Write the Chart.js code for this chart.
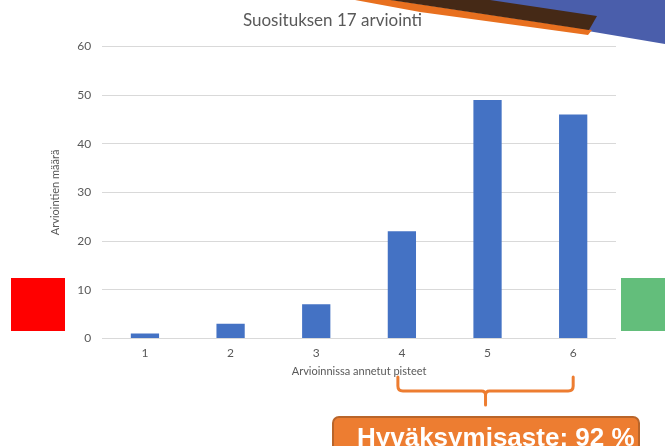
<!DOCTYPE html>
<html>
<head>
<meta charset="utf-8">
<script src="https://cdn.jsdelivr.net/npm/chart.js@4"></script>
<style>
    html, body { margin: 0; padding: 0; background: #fff; }
    #wrap { position: relative; width: 665px; height: 446px; overflow: hidden; }
</style>
</head>
<body>
<div id="wrap"><canvas id="chart" width="665" height="446"></canvas></div>
<script>
// Data
const pisteet = ['1', '2', '3', '4', '5', '6'];
const arvioinnit = [1, 3, 7, 22, 49, 46];
const yTicks = [0, 10, 20, 30, 40, 50, 60];

const otsikko = 'Suosituksen 17 arviointi';
const yOtsikko = 'Arviointien määrä';
const xOtsikko = 'Arvioinnissa annetut pisteet';
const hyvaksymisaste = 'Hyväksymisaste: 92 %';

// Koristeet (slide background shapes, brace and label box)
const decorations = {
    id: 'decorations',
    beforeDraw(chart) {
        const ctx = chart.ctx;
        ctx.save();
        // blue corner
        ctx.fillStyle = '#4a5eab';
        ctx.beginPath();
        ctx.moveTo(470, 0); ctx.lineTo(665, 0); ctx.lineTo(665, 44); ctx.lineTo(588, 31);
        ctx.closePath(); ctx.fill();
        // orange stripe
        ctx.fillStyle = '#e8701f';
        ctx.beginPath();
        ctx.moveTo(355, 0); ctx.lineTo(392, 0); ctx.lineTo(592, 30); ctx.lineTo(588, 35);
        ctx.lineTo(530, 27); ctx.lineTo(420, 12);
        ctx.closePath(); ctx.fill();
        // dark stripe
        ctx.fillStyle = '#452916';
        ctx.beginPath();
        ctx.moveTo(390, 0); ctx.lineTo(490, 0); ctx.lineTo(597, 16); ctx.lineTo(589, 30);
        ctx.closePath(); ctx.fill();
        // red and green squares
        ctx.fillStyle = '#ff0000';
        ctx.fillRect(11, 278, 54, 53);
        ctx.fillStyle = '#63be7b';
        ctx.fillRect(621, 278, 44, 53);
        ctx.restore();
    },
    afterDraw(chart) {
        const ctx = chart.ctx;
        const x = chart.scales.x;
        const x4 = x.getPixelForValue(3) - 4;
        const x6 = x.getPixelForValue(5);
        const mid = (x4 + x6) / 2;
        ctx.save();
        // brace
        ctx.strokeStyle = '#ed7d31';
        ctx.lineWidth = 3;
        ctx.lineCap = 'round';
        ctx.beginPath();
        ctx.moveTo(x4, 377); ctx.lineTo(x4, 386);
        ctx.quadraticCurveTo(x4, 391, x4 + 5, 391);
        ctx.lineTo(mid - 4, 391);
        ctx.quadraticCurveTo(mid, 391, mid, 395);
        ctx.lineTo(mid, 405);
        ctx.moveTo(mid, 395);
        ctx.quadraticCurveTo(mid, 391, mid + 4, 391);
        ctx.lineTo(x6 - 5, 391);
        ctx.quadraticCurveTo(x6, 391, x6, 386);
        ctx.lineTo(x6, 377);
        ctx.stroke();
        // label box
        ctx.fillStyle = '#ed7d31';
        ctx.strokeStyle = '#b9652a';
        ctx.lineWidth = 2;
        ctx.beginPath();
        ctx.roundRect(333, 417, 306, 40, 6);
        ctx.fill();
        ctx.stroke();
        ctx.fillStyle = '#ffffff';
        ctx.font = 'bold 26px "Liberation Sans", Arial, sans-serif';
        ctx.textBaseline = 'alphabetic';
        ctx.textAlign = 'left';
        ctx.fillText(hyvaksymisaste, 357, 446);
        ctx.restore();
    }
};

const ctx = document.getElementById('chart').getContext('2d');
new Chart(ctx, {
    type: 'bar',
    data: {
        labels: pisteet,
        datasets: [{
            data: arvioinnit,
            backgroundColor: '#4472c4',
            borderWidth: 0,
            barPercentage: 0.33,
            categoryPercentage: 1
        }]
    },
    options: {
        responsive: false,
        animation: false,
        layout: {
            padding: { left: 49, right: 49, top: 9, bottom: 68 }
        },
        plugins: {
            legend: { display: false },
            tooltip: { enabled: false },
            title: {
                display: true,
                text: otsikko,
                color: '#595959',
                font: { family: 'Lato, "Open Sans", sans-serif', size: 17, weight: 'normal' },
                padding: { top: 1, bottom: 16 }
            }
        },
        scales: {
            y: {
                min: 0,
                max: 60,
                afterBuildTicks(axis) {
                    axis.ticks = yTicks.map(v => ({ value: v }));
                },
                grid: { color: '#d9d9d9', drawTicks: false },
                border: { display: false },
                ticks: {
                    color: '#595959',
                    padding: 11,
                    font: { family: 'Lato, "Open Sans", sans-serif', size: 12 }
                },
                title: {
                    display: true,
                    text: yOtsikko,
                    color: '#595959',
                    font: { family: 'Lato, "Open Sans", sans-serif', size: 11 },
                    padding: { top: 0, bottom: 4 }
                }
            },
            x: {
                grid: { display: false, drawTicks: false },
                border: { display: false },
                ticks: {
                    color: '#595959',
                    padding: 8,
                    font: { family: 'Lato, "Open Sans", sans-serif', size: 12 }
                },
                title: {
                    display: true,
                    text: xOtsikko,
                    color: '#595959',
                    font: { family: 'Lato, "Open Sans", sans-serif', size: 11 },
                    padding: { top: -4, bottom: 0 }
                }
            }
        }
    },
    plugins: [decorations]
});
</script>
</body>
</html>
